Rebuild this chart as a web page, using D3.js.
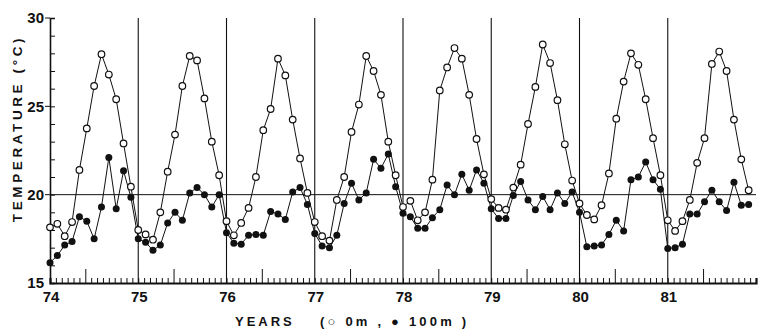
<!DOCTYPE html>
<html>
<head>
<meta charset="utf-8">
<script src="https://cdn.jsdelivr.net/npm/d3@7"></script>
<style>
  html, body { margin: 0; padding: 0; background: #fff; }
  svg { display: block; }
  text { font-family: "Liberation Sans", Arial, sans-serif; fill: #111; }
</style>
</head>
<body>
<div id="chart"></div>
<script>
// years on the axis (19xx)
const years = [74, 75, 76, 77, 78, 79, 80, 81];
const yTicks = [15, 20, 25, 30];

// monthly means, surface (0 m) - open circles
const temp0m = [
  18.15, 18.35, 17.65, 18.45, 21.4, 23.75, 26.15, 27.95, 26.8, 25.4, 22.9, 20.45,
  18.0, 17.75, 17.45, 19.0, 21.3, 23.4, 26.15, 27.85, 27.6, 25.45, 23.0, 21.1,
  18.5, 17.7, 18.4, 19.25, 21.0, 23.65, 24.85, 27.7, 26.75, 24.25, 22.05, 20.1,
  18.45, 17.65, 17.4, 19.7, 21.0, 23.55, 25.1, 27.85, 27.0, 25.65, 23.0, 21.1,
  19.3, 19.65, 18.55, 19.0, 20.85, 25.9, 27.2, 28.3, 27.7, 25.65, 23.15, 21.15,
  19.75, 19.25, 19.15, 20.4, 21.7, 24.0, 26.1, 28.5, 27.45, 25.35, 22.85, 20.8,
  19.5, 18.85, 18.6, 19.4, 21.2, 24.3, 26.4, 28.0, 27.35, 25.4, 23.2, 21.1,
  18.55, 17.95, 18.5, 19.7, 21.8, 23.2, 27.4, 28.1, 27.0, 24.25, 22.0, 20.25
];

// monthly means, 100 m - filled circles
const temp100m = [
  16.15, 16.55, 17.15, 17.35, 18.75, 18.5, 17.5, 19.3, 22.1, 19.2, 21.35, 19.85,
  17.5, 17.3, 16.85, 17.15, 18.4, 19.0, 18.55, 20.1, 20.4, 20.0, 19.3, 20.0,
  17.85, 17.25, 17.2, 17.7, 17.75, 17.7, 19.05, 18.9, 18.6, 20.15, 20.4, 19.45,
  17.8, 17.1, 17.0, 17.7, 19.5, 20.65, 19.7, 20.1, 22.0, 21.5, 22.3, 20.45,
  18.95, 18.75, 18.1, 18.1, 18.7, 19.15, 20.55, 20.0, 21.15, 20.25, 21.4, 20.65,
  19.2, 18.65, 18.65, 19.95, 20.75, 19.7, 19.15, 19.9, 19.15, 20.1, 19.5, 20.15,
  19.0, 17.05, 17.1, 17.15, 17.75, 18.55, 17.95, 20.85, 21.0, 21.85, 20.85, 20.3,
  16.95, 17.0, 17.2, 18.9, 18.9, 19.6, 20.25, 19.6, 19.1, 20.7, 19.4, 19.45
];

const width = 759, height = 330;
const svg = d3.select("#chart").append("svg")
  .attr("width", width).attr("height", height);

const x = d3.scaleLinear().domain([74, 82]).range([50, 756]);
const y = d3.scaleLinear().domain([15, 30]).range([283, 18]);
const t = i => 74 + i / 12;

const ink = "#111";

// year divider lines
svg.append("g").selectAll("line")
  .data(years.slice(1))
  .join("line")
  .attr("x1", d => x(d)).attr("x2", d => x(d))
  .attr("y1", y(30)).attr("y2", y(15))
  .attr("stroke", ink).attr("stroke-width", 1.1);

// 20 degree reference line
svg.append("line")
  .attr("x1", x(74)).attr("x2", x(82))
  .attr("y1", y(20)).attr("y2", y(20))
  .attr("stroke", ink).attr("stroke-width", 1);

// y axis with 1-degree ticks pointing inward
const yAxis = svg.append("g").attr("transform", `translate(${x(74)},0)`)
  .call(d3.axisRight(y).tickValues(d3.range(15, 31)).tickSize(5).tickFormat(""));
yAxis.select(".domain").attr("stroke", ink).attr("stroke-width", 1.6);
yAxis.selectAll(".tick line").attr("stroke", ink);
yAxis.append("g").selectAll("line")
  .data(yTicks.slice(1))
  .join("line")
  .attr("x1", -5).attr("x2", 0)
  .attr("y1", d => y(d)).attr("y2", d => y(d))
  .attr("stroke", ink);
yAxis.selectAll(".lbl")
  .data(yTicks)
  .join("text")
  .attr("class", "lbl")
  .attr("x", -6).attr("y", d => y(d))
  .attr("dy", "0.35em")
  .attr("text-anchor", "end")
  .attr("font-size", 15).attr("font-weight", "bold")
  .text(d => d);

// x axis: 15 small ticks per year, a taller one at 0.4 of each year
const minor = d3.range(0, 8 * 15 + 1).map(i => 74 + i / 15).filter(v => v < 81.96);
const xAxis = svg.append("g").attr("transform", `translate(0,${y(15)})`)
  .call(d3.axisTop(x).tickValues(minor).tickSize(5).tickFormat(""));
xAxis.select(".domain").attr("stroke", ink).attr("stroke-width", 2.2);
xAxis.selectAll(".tick line").attr("stroke", ink)
  .attr("y2", (d, i) => (i % 15 === 6 ? -14 : -5));
xAxis.selectAll(".yr")
  .data(years)
  .join("text")
  .attr("class", "yr")
  .attr("x", d => x(d) + 1).attr("y", 19)
  .attr("font-size", 15).attr("font-weight", "bold")
  .text(d => d);

// series lines
const line = d3.line().x((d, i) => x(t(i))).y(d => y(d));
[temp0m, temp100m].forEach(s => {
  svg.append("path").datum(s)
    .attr("d", line)
    .attr("fill", "none").attr("stroke", ink).attr("stroke-width", 1);
});

// markers
svg.append("g").selectAll("circle")
  .data(temp0m)
  .join("circle")
  .attr("cx", (d, i) => x(t(i))).attr("cy", d => y(d))
  .attr("r", 3.3)
  .attr("fill", "#fff").attr("stroke", ink).attr("stroke-width", 1.2);
svg.append("g").selectAll("circle")
  .data(temp100m)
  .join("circle")
  .attr("cx", (d, i) => x(t(i))).attr("cy", d => y(d))
  .attr("r", 3.5)
  .attr("fill", ink);

// axis titles
svg.append("text")
  .attr("transform", `translate(22,${(y(15) + y(30)) / 2 - 22}) rotate(-90)`)
  .attr("text-anchor", "middle")
  .attr("font-size", 13.5).attr("font-weight", "bold")
  .attr("letter-spacing", 3.6)
  .text("TEMPERATURE (°C)");

svg.append("text")
  .attr("x", 235).attr("y", 326)
  .attr("font-size", 13).attr("font-weight", "bold")
  .attr("letter-spacing", 3)
  .text("YEARS");
svg.append("text")
  .attr("x", 320).attr("y", 326)
  .attr("font-size", 13).attr("font-weight", "bold")
  .attr("letter-spacing", 3.2)
  .attr("xml:space", "preserve")
  .text("(○ 0m , ● 100m )");
</script>
</body>
</html>
